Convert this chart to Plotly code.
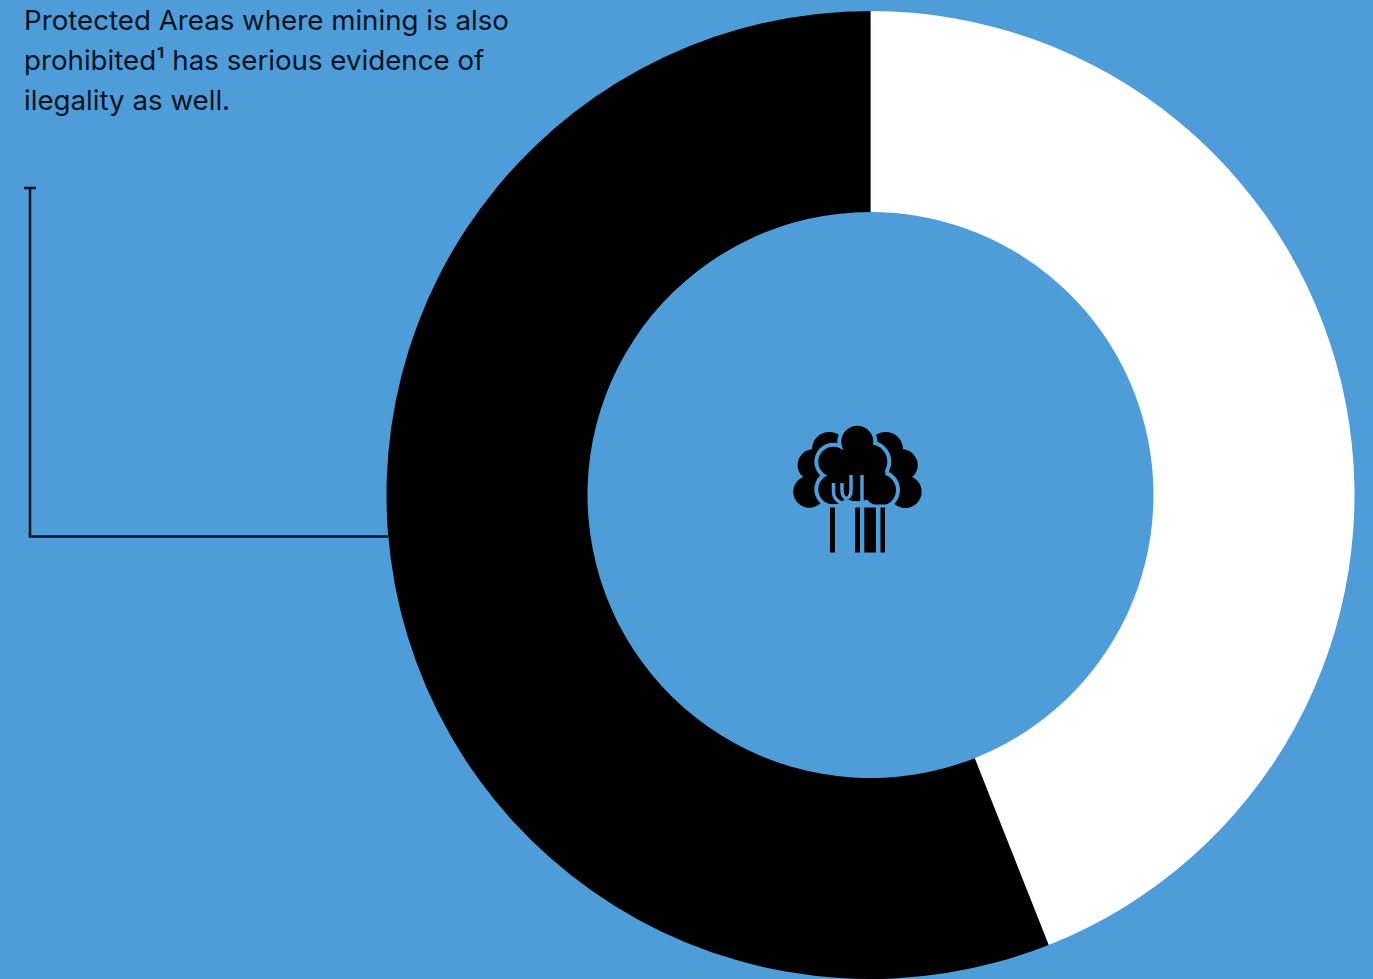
import plotly.graph_objects as go

WIDTH, HEIGHT = 1373, 979
BLUE = "#4f9dd8"
INK = "#000000"
TEXT_INK = "#08131f"

segment_labels = ["With evidence of illegality", "Without evidence of illegality"]
segment_values = [44, 56]
segment_colors = ["#ffffff", "#000000"]

caption_lines = [
    "Protected Areas where mining is also",
    "prohibited¹ has serious evidence of",
    "ilegality as well.",
]
caption_line_centres = [20, 60, 100]

# Icon geometry in page pixels: (cx, cy, radius)
canopy_back = [
    (829.3, 449.3, 17.3), (813.3, 465, 15.7), (809.3, 491.7, 16),
    (885.7, 449.3, 17.3), (902, 465, 15.7), (905.3, 491.7, 16.3),
]
canopy_front = [
    (857.3, 441.7, 16), (833.3, 461.7, 15), (833.3, 489.3, 15),
    (870, 461.7, 17.3), (880, 490, 16), (857.3, 473.3, 28),
]
trunks = [(830, 835), (855, 860), (864.3, 876), (880.5, 885)]
trunk_top, trunk_bottom = 505, 552.5


def px(x):
    return x / WIDTH


def py(y):
    return 1 - y / HEIGHT


def disc(cx, cy, r, color):
    return dict(type="circle", xref="paper", yref="paper", layer="above",
                x0=px(cx - r), x1=px(cx + r), y0=py(cy + r), y1=py(cy - r),
                fillcolor=color, line_width=0)


def bar(x0, x1, y0, y1, color):
    return dict(type="rect", xref="paper", yref="paper", layer="above",
                x0=px(x0), x1=px(x1), y0=py(y1), y1=py(y0),
                fillcolor=color, line_width=0)


def stroke(points, color, width):
    d = " ".join(
        f"{cmd} " + " ".join(f"{px(x):.5f},{py(y):.5f}" for x, y in pts)
        for cmd, pts in points
    )
    return dict(type="path", xref="paper", yref="paper", layer="above", path=d,
                line=dict(color=color, width=width), fillcolor="rgba(0,0,0,0)")


shapes = []

# Bracket leading from the caption to the black segment
shapes.append(stroke([("M", [(30, 188)]), ("L", [(30, 536.5)]), ("L", [(388, 536.5)])], TEXT_INK, 2.5))
shapes.append(stroke([("M", [(24, 188)]), ("L", [(36, 188)])], TEXT_INK, 2.5))

# Tree icon in the hole of the ring
shapes += [disc(*c, INK) for c in canopy_back]
shapes += [disc(cx, cy, r + 4, BLUE) for cx, cy, r in canopy_front]
shapes += [disc(*c, INK) for c in canopy_front]
shapes += [bar(x0, x1, trunk_top, trunk_bottom, INK) for x0, x1 in trunks]
shapes.append(bar(825, 890, 504.5, 507.5, BLUE))
shapes.append(stroke([("M", [(833.5, 483)]), ("L", [(833.5, 492)]),
                      ("C", [(833.5, 501), (842, 505), (856, 506)])], BLUE, 3.5))
shapes.append(stroke([("M", [(842, 483)]), ("L", [(842, 490)]),
                      ("C", [(842, 501), (851, 501), (851, 490)]),
                      ("L", [(851, 475)])], BLUE, 3.5))
shapes.append(stroke([("M", [(862, 475)]), ("L", [(862, 506)])], BLUE, 3.5))

annotations = [
    dict(text=line, x=px(22), y=py(yc), xref="paper", yref="paper",
         xanchor="left", yanchor="middle", showarrow=False, align="left",
         font=dict(family="Inter, 'Noto Sans', sans-serif", size=27.7, color=TEXT_INK))
    for line, yc in zip(caption_lines, caption_line_centres)
]

fig = go.Figure(
    go.Pie(
        labels=segment_labels,
        values=segment_values,
        sort=False,
        direction="clockwise",
        rotation=0,
        hole=283 / 484,
        marker=dict(colors=segment_colors, line=dict(width=0)),
        textinfo="none",
        hoverinfo="label+percent",
        showlegend=False,
        domain=dict(x=[px(386.5), px(1354.5)], y=[0, py(11)]),
    )
)

fig.update_layout(
    width=WIDTH,
    height=HEIGHT,
    margin=dict(l=0, r=0, t=0, b=0),
    paper_bgcolor=BLUE,
    plot_bgcolor=BLUE,
    shapes=shapes,
    annotations=annotations,
)

fig.write_html("out.html", config={"displayModeBar": False})
